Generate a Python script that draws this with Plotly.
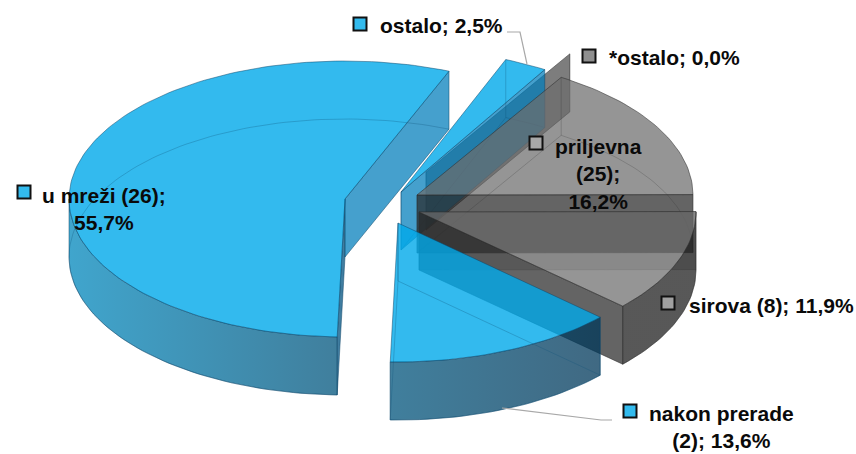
import math
import plotly.graph_objects as go

categories = ["priljevna", "sirova", "nakon prerade", "u mreži", "ostalo", "*ostalo"]
values = [16.2, 11.9, 13.6, 55.7, 2.5, 0.0]
counts = ["25", "8", "2", "26", "", ""]
families = ["grey", "grey", "blue", "blue", "blue", "grey"]
first_angle = 31.5

# projected placement of each exploded slice: centre x, centre y, radius x, radius y
placement = {
    "priljevna": (417, 195, 276, 138),
    "sirova": (419, 212, 277, 139),
    "nakon prerade": (398, 223, 275, 139),
    "u mreži": (345, 199, 276, 138),
    "ostalo": (401, 192, 278, 143),
    "*ostalo": (426, 172, 278, 138),
}
draw_order = ["*ostalo", "ostalo", "u mreži", "priljevna", "sirova", "nakon prerade"]
DEPTH = 58

STYLE = {
    "blue": dict(top="rgba(0,169,234,0.8)", wall=(0, 125, 186), edge="rgba(15,70,105,0.55)",
                 hidden="rgba(15,80,120,0.32)", arc_lo=(50, 105, 130), arc_hi=(60, 165, 205)),
    "grey": dict(top="rgba(108,108,108,0.72)", wall=(42, 42, 42), edge="rgba(45,45,45,0.6)",
                 hidden="rgba(45,45,45,0.25)", arc_lo=(88, 88, 88), arc_hi=(112, 112, 112)),
}

fig = go.Figure()


def point(cx, cy, rx, ry, a, dz=0.0):
    r = math.radians(a)
    return cx + rx * math.sin(r), cy - ry * math.cos(r) + dz


def arc(cx, cy, rx, ry, a0, a1, dz=0.0):
    n = max(2, int(abs(a1 - a0) / 1.5))
    return [point(cx, cy, rx, ry, a0 + (a1 - a0) * i / n, dz) for i in range(n + 1)]


def poly(pts, fill=None, line="rgba(0,0,0,0)", width=0.9, gradient=None, close=True):
    xs = [p[0] for p in pts]
    ys = [p[1] for p in pts]
    if close:
        xs.append(xs[0])
        ys.append(ys[0])
    kw = dict(x=xs, y=ys, mode="lines", line=dict(color=line, width=width),
              hoverinfo="skip", showlegend=False)
    if gradient:
        kw.update(fill="toself", fillgradient=gradient)
    elif fill:
        kw.update(fill="toself", fillcolor=fill)
    fig.add_trace(go.Scatter(**kw))


def over_white(t, a=0.75):
    c = [max(0, min(255, round((v - (1 - a) * 255) / a))) for v in t]
    return f"rgba({c[0]},{c[1]},{c[2]},{a})"


def arc_shade(st, a):
    u = max(0.0, min(1.0, (a - 132) / (270 - 132)))
    return [st["arc_lo"][i] + (st["arc_hi"][i] - st["arc_lo"][i]) * u for i in range(3)]


spans = {}
cur = first_angle
for name, v in zip(categories, values):
    spans[name] = (cur, cur + 360 * v / 100)
    cur += 360 * v / 100

fam = dict(zip(categories, families))

for name in draw_order:
    a0, a1 = spans[name]
    cx, cy, rx, ry = placement[name]
    st = STYLE[fam[name]]
    wall = f"rgba({st['wall'][0]},{st['wall'][1]},{st['wall'][2]},0.73)"
    c = (cx, cy)
    c2 = (cx, cy + DEPTH)
    edges = ((a0, math.sin(math.radians(a0)) < 0), (a1, math.sin(math.radians(a1)) > 0))

    # hidden wall that tints the slice from below
    if name == "sirova":
        poly([c, point(cx, cy, rx, ry, a0), point(cx, cy, rx, ry, a0, DEPTH), c2],
             fill="rgba(42,42,42,0.2)", line=st["hidden"])

    # visible straight walls
    for a, vis in edges:
        if vis:
            p = point(cx, cy, rx, ry, a)
            q = point(cx, cy, rx, ry, a, DEPTH)
            if name == "u mreži" and a == a0:
                poly([c, p, q, c2], fill=over_white((55, 125, 160)), line=st["edge"])
            elif name == "*ostalo":
                poly([c, p, q, c2], fill="rgba(75,75,75,0.72)", line=st["edge"])
            else:
                poly([c, p, q, c2], fill=wall, line=st["edge"])

    # curved front wall
    lo, hi = max(a0, 90), min(a1, 270)
    if hi > lo:
        top = arc(cx, cy, rx, ry, lo, hi)
        bot = arc(cx, cy, rx, ry, hi, lo, DEPTH)
        xa, xb = top[0][0], top[-1][0]
        left_a, right_a = (hi, lo) if xb < xa else (lo, hi)
        cl = arc_shade(st, left_a)
        cr = arc_shade(st, right_a)
        grad = dict(type="horizontal", start=min(xa, xb), stop=max(xa, xb),
                    colorscale=[[0, over_white(cl)], [1, over_white(cr)]])
        poly(top + bot, gradient=grad, line=st["edge"])

    # top face
    if a1 > a0:
        poly([c] + arc(cx, cy, rx, ry, a0, a1), fill=st["top"], line=st["edge"])

    # the back rim and hidden edges, seen through the slice
    if a1 > a0:
        poly(arc(cx, cy, rx, ry, a0, a1, DEPTH), line=st["hidden"], close=False)
    for a, vis in edges:
        if not vis and name != "sirova":
            p = point(cx, cy, rx, ry, a)
            q = point(cx, cy, rx, ry, a, DEPTH)
            poly([c2, q, p], line=st["hidden"], close=False)
            poly([c, c2], line=st["hidden"], close=False)

# leader lines
leader_x = [[507, 520, 527], [502, 601, 612]]
leader_y = [[32, 32, 64], [408, 420, 420]]
for lx, ly in zip(leader_x, leader_y):
    fig.add_trace(go.Scatter(x=lx, y=ly, mode="lines", line=dict(color="#a8a8a8", width=1.2),
                             hoverinfo="skip", showlegend=False))

# data labels: key position, text position, anchor
labels = {
    "ostalo": ((360, 24), (378, 25), "left", "ostalo; 2,5%", "#33BBEE"),
    "*ostalo": ((589, 56), (607, 57), "left", "*ostalo; 0,0%", "#8f8f8f"),
    "priljevna": ((536, 143), (598, 174), "center", "priljevna<br>(25);<br>16,2%", "#a8a8a8"),
    "u mreži": ((24, 192), (104, 209), "center", "u mreži (26);<br>55,7%", "#33BBEE"),
    "sirova": ((668, 303), (687, 305), "left", "sirova (8); 11,9%", "#a0a0a0"),
    "nakon prerade": ((630, 411), (721, 427), "center", "nakon prerade<br>(2); 13,6%", "#33BBEE"),
}
for key, (kp, tp, anchor, text, col) in labels.items():
    fig.add_trace(go.Scatter(x=[kp[0]], y=[kp[1]], mode="markers",
                             marker=dict(symbol="square", size=13, color=col,
                                         line=dict(color="#111111", width=2)),
                             hoverinfo="skip", showlegend=False))
    fig.add_annotation(x=tp[0], y=tp[1], text=text, showarrow=False, xanchor=anchor, yanchor="middle",
                       align="center", font=dict(family="Liberation Sans", size=21,
                                                 color="#0a0a0a", weight="bold"))

fig.update_layout(
    width=856, height=454, margin=dict(l=0, r=0, t=0, b=0),
    paper_bgcolor="white", plot_bgcolor="white", showlegend=False,
    xaxis=dict(range=[0, 856], visible=False, fixedrange=True),
    yaxis=dict(range=[454, 0], visible=False, fixedrange=True),
)
fig.write_html("out.html", config={"displayModeBar": False},
               post_script="document.body.style.margin='0';document.documentElement.style.overflow='hidden';")
